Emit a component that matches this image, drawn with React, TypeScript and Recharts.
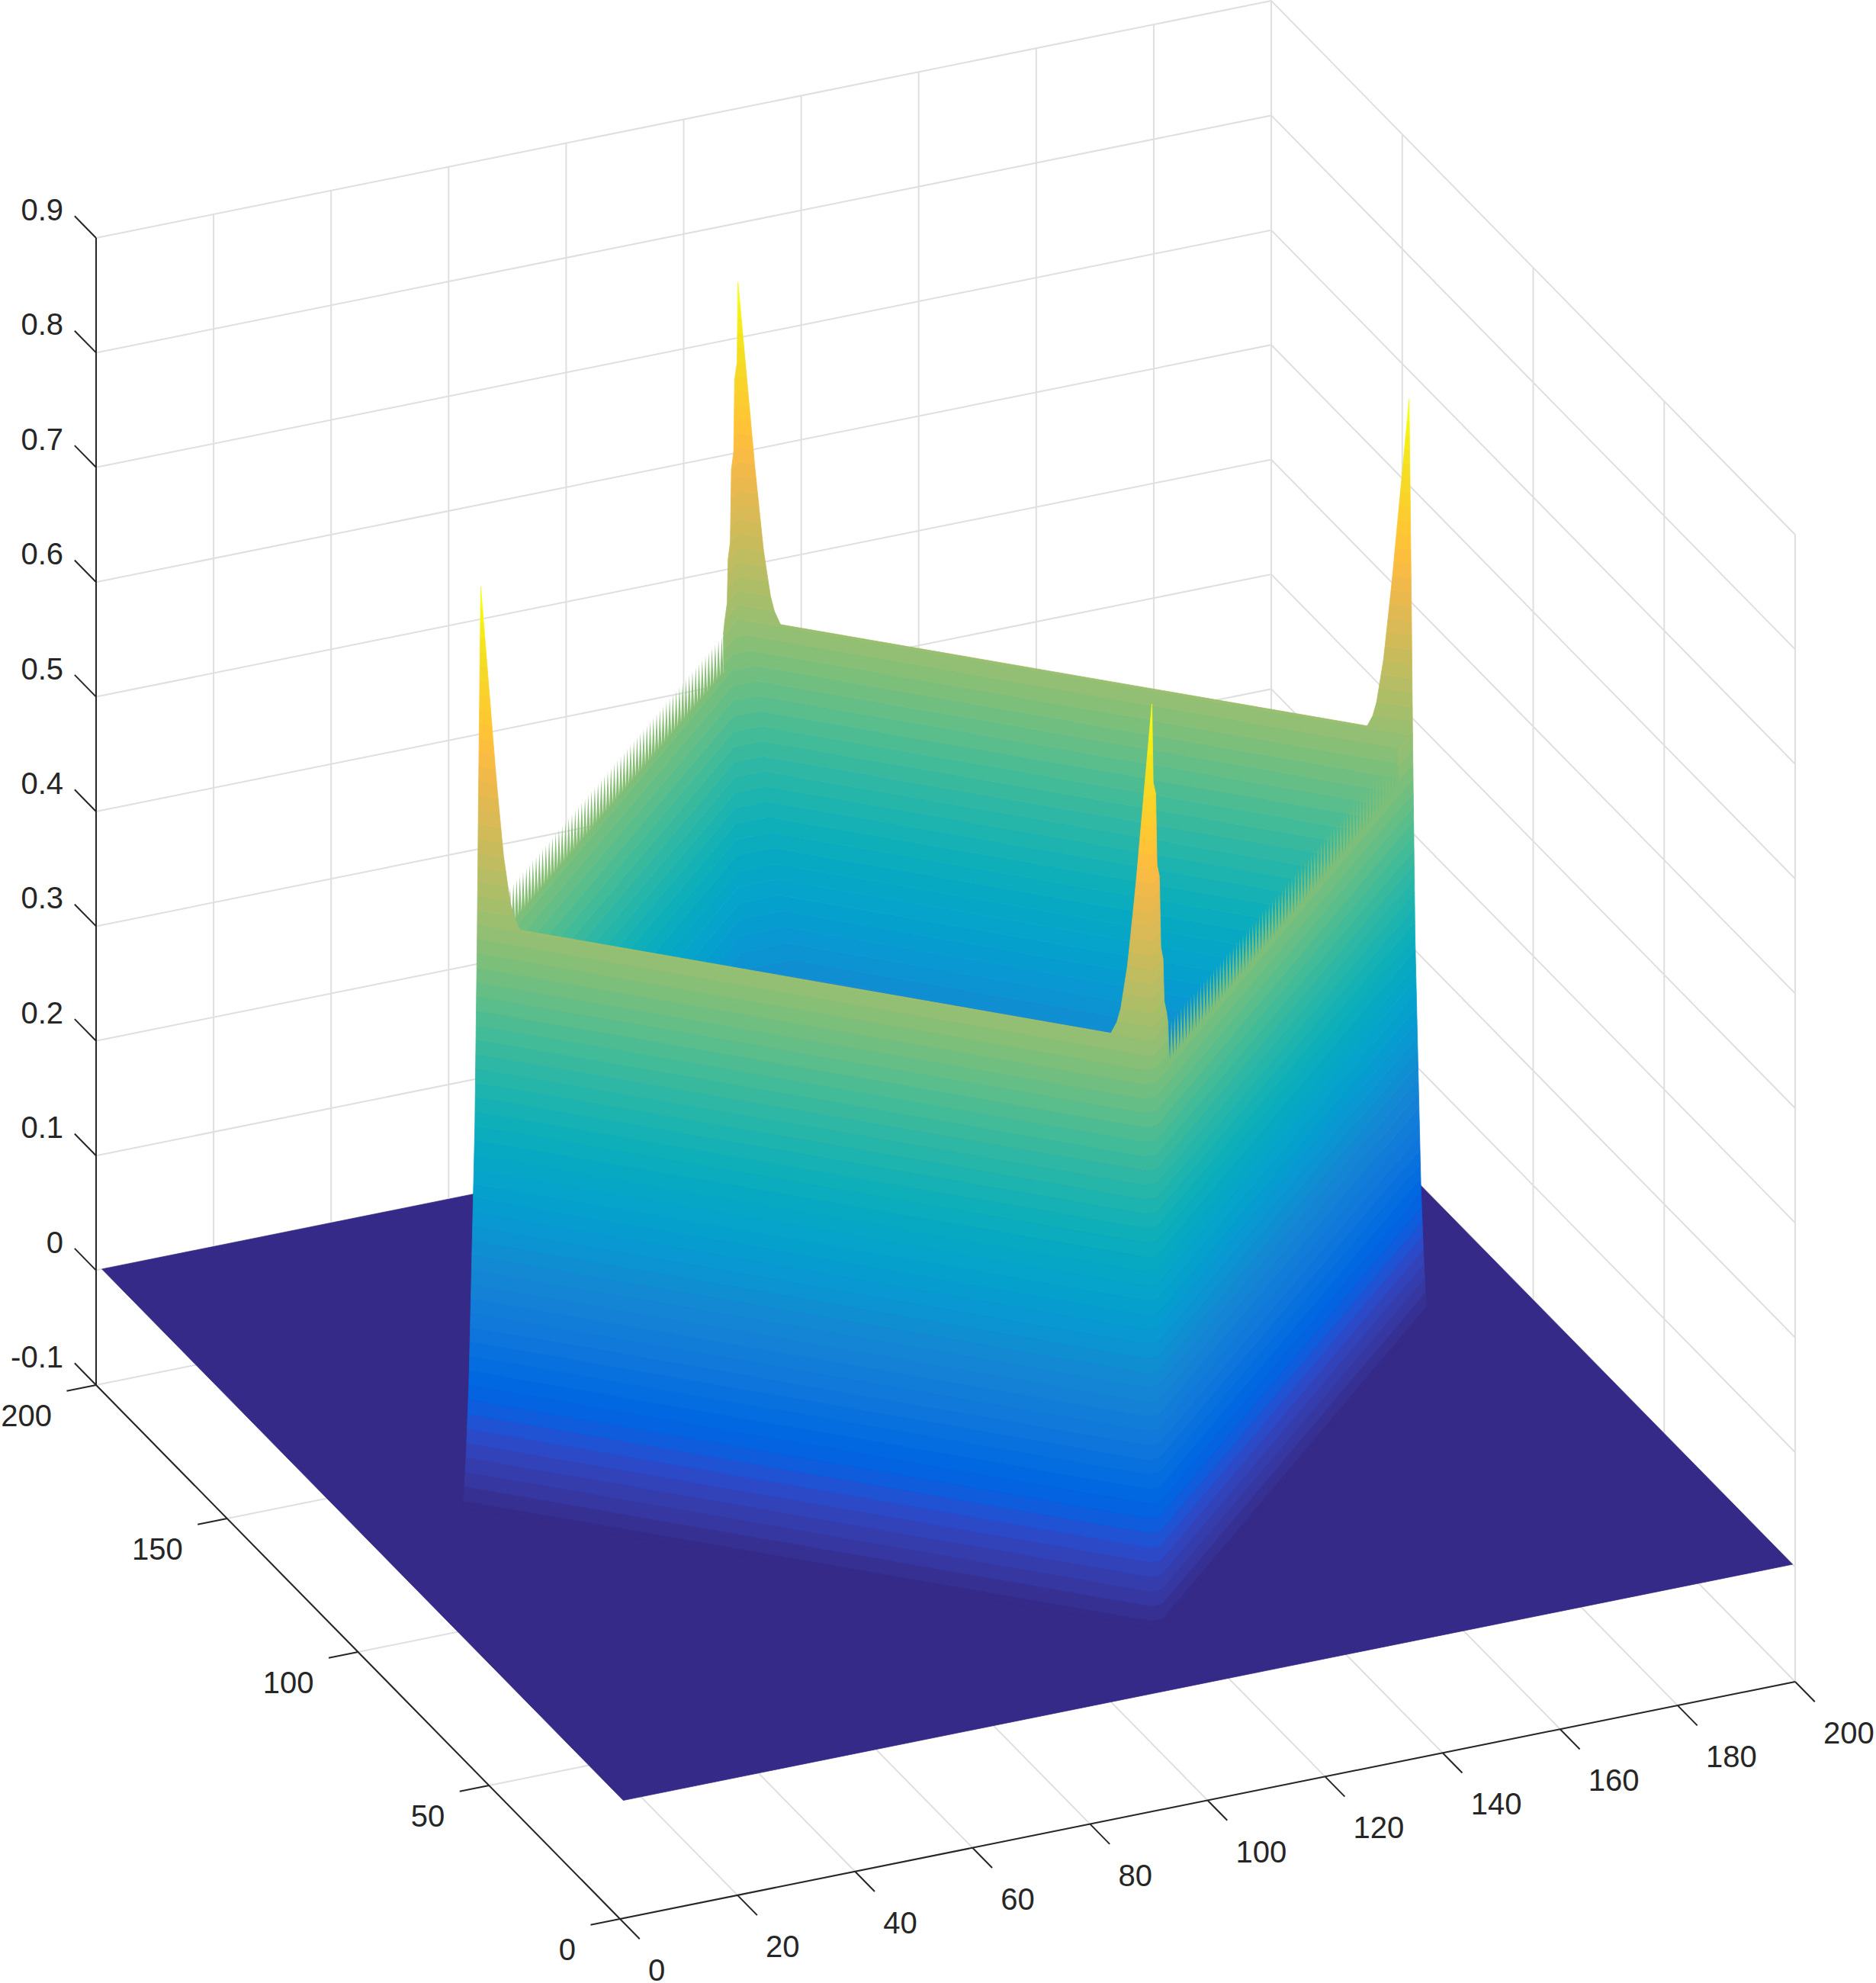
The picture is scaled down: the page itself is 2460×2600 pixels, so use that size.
import React from 'react';
import { ComposedChart, Area, Line, XAxis, YAxis } from 'recharts';

// tick labels
const xTicks = [0, 20, 40, 60, 80, 100, 120, 140, 160, 180, 200];
const yTicks = [0, 50, 100, 150, 200];
const zTicks = [-0.1, 0, 0.1, 0.2, 0.3, 0.4, 0.5, 0.6, 0.7, 0.8, 0.9];

// surface values: height against L1 distance from the centre
const outerZ = [0, 0.045, 0.11, 0.33, 0.5, 0.61, 0.8];
const outerR = [82, 81.5, 81, 80, 79.6, 79.4, 79];
const innerZ = [0.12, 0.15, 0.2, 0.25, 0.3, 0.35, 0.4, 0.45, 0.475, 0.508];
const innerR = [55, 64, 70, 73, 75, 76.5, 77.5, 78.5, 78.9, 79];
// ridge height against distance from a corner
const smoothT = [0, 1, 2, 3, 4, 5];
const smoothZ = [0.8, 0.72, 0.64, 0.57, 0.523, 0.508];
const jaggedT = [0, 0.3, 1, 1.35, 2, 2.4, 3, 3.4, 4, 4.5];
const jaggedZ = [0.8, 0.727, 0.725, 0.651, 0.649, 0.576, 0.574, 0.522, 0.52, 0.508];

const parula = [
  '#352a87', '#363093', '#3637a0', '#353dad', '#3243ba', '#2c4ac7', '#2053d4', '#0f5cdd', '#0363e1', '#0268e1',
  '#046de0', '#0871de', '#0d75dc', '#1079da', '#127dd8', '#1481d6', '#1485d4', '#1389d3', '#108ed2', '#0c93d2',
  '#0998d1', '#079ccf', '#06a0cd', '#06a4ca', '#06a7c6', '#07a9c2', '#0aacbe', '#0fafb9', '#15b1b4', '#1db3af',
  '#25b5a9', '#2eb7a4', '#38b99e', '#42bb98', '#4dbc92', '#59bd8c', '#65be86', '#71bf80', '#7cbf7b', '#87bf77',
  '#92bf73', '#9bbf6f', '#a5be6b', '#aebe67', '#b7bd64', '#c0bc60', '#c8bb5c', '#d1bb59', '#d9ba56', '#e1b952',
  '#e9b94e', '#f1b94a', '#f8bb44', '#fdbe3d', '#ffc337', '#fec832', '#fccd2e', '#f9d32a', '#f7d826', '#f5de21',
  '#f5e41d', '#f5eb18', '#f6f313', '#f9fb0e',
];

const CX = 101;
const CY = 102.5;
const RIDGE_R = 79;
const RIDGE_Z = 0.508;
const VALLEY_Z = 0.475;
const LEVEL = 0.0125;
const JAGGED_END = 4.5;

type Pt = [number, number];

const project = (x: number, y: number, z: number): Pt => [
  813 + 7.705 * x - 3.435 * y,
  2516 - 1.555 * x - 3.5 * y - 1504 * (z + 0.1),
];

const interp = (xs: number[], ys: number[], x: number) => {
  if (x <= xs[0]) return ys[0];
  for (let i = 1; i < xs.length; i++) {
    if (x <= xs[i]) return ys[i - 1] + ((x - xs[i - 1]) / (xs[i] - xs[i - 1])) * (ys[i] - ys[i - 1]);
  }
  return ys[ys.length - 1];
};
const tSmooth = (z: number) => interp([...smoothZ].reverse(), [...smoothT].reverse(), z);
const tJagged = (z: number) => interp([...jaggedZ].reverse(), [...jaggedT].reverse(), z);
const rOut = (z: number) => interp(outerZ, outerR, z);
const rIn = (z: number) => interp(innerZ, innerR, z);

// corners of the diamond at distance r, moved t along a ridge direction (dx, dy)
const corner = { L: [-1, 0], F: [0, -1], R: [1, 0], B: [0, 1] } as const;
type C = keyof typeof corner;
const at = (c: C, r: number, z: number, dx = 0, dy = 0, t = 0) =>
  project(CX + corner[c][0] * r + dx * t, CY + corner[c][1] * r + dy * t, z);

// turn an x-monotone polygon into the [low, high] rows an Area wants
const toRange = (poly: Pt[]) => {
  const xs = [...new Set(poly.map((p) => Math.round(p[0] * 100) / 100))].sort((a, b) => a - b);
  const n = poly.length;
  return xs.map((x) => {
    const hits: number[] = [];
    for (let i = 0; i < n; i++) {
      const a = poly[i];
      const b = poly[(i + 1) % n];
      const lo = Math.min(a[0], b[0]) - 0.006;
      const hi = Math.max(a[0], b[0]) + 0.006;
      if (x < lo || x > hi) continue;
      if (Math.abs(a[0] - b[0]) < 0.02) hits.push(a[1], b[1]);
      else hits.push(a[1] + ((x - a[0]) / (b[0] - a[0])) * (b[1] - a[1]));
    }
    return { px: x, py: [Math.min(...hits), Math.max(...hits)] };
  });
};

// colour steps of the 64 level map, plus the breaks where the surface changes shape
const edges: number[] = [0, 0.8, RIDGE_Z, VALLEY_Z];
for (let k = 1; k <= 63; k++) edges.push((k - 0.5) * LEVEL);
edges.sort((a, b) => a - b);

type Band = { color: string; data: { px: number; py: number[] }[] };

const bands = (from: number, to: number, path: (z: number) => Pt[]): Band[] => {
  const out: Band[] = [];
  for (let i = 0; i + 1 < edges.length; i++) {
    const z1 = edges[i];
    const z2 = edges[i + 1];
    if (z1 < from - 1e-6 || z2 > to + 1e-6) continue;
    const idx = Math.min(63, Math.round((z1 + z2) / 2 / LEVEL));
    out.push({ color: parula[idx], data: toRange([...path(z1), ...path(z2).reverse()]) });
  }
  return out;
};

const saw = (tips: (t: number) => Pt, valley: (t: number) => Pt, t0: number, t1: number) => {
  const rows: { px: number; py: number[] }[] = [];
  for (let t = t0; t <= t1; t++) {
    const tip = tips(t);
    const v = valley(t);
    rows.push({ px: tip[0], py: [v[1] + 2, tip[1]] });
    const v2 = valley(t + 0.5);
    rows.push({ px: v2[0], py: [v2[1] + 2, v2[1]] });
  }
  return rows;
};

// 0 at the ridge, 1 at the valley line under the teeth
const share = (z: number) => (RIDGE_Z - z) / (RIDGE_Z - VALLEY_Z);

// inner faces seen past the front ridge
const innerLow = (z: number): Pt[] => {
  const r = rIn(z);
  const c = 2 + (RIDGE_R - r) * 0.3;
  return [at('L', r, z), at('B', r, z, -1, -1, c), at('B', r, z, 1, -1, c), at('R', r, z)];
};
const innerMid = (z: number): Pt[] => {
  const r = rIn(z);
  const c = 2.03 * share(z);
  const rEnd = rOut(RIDGE_Z) + (rIn(VALLEY_Z) - rOut(RIDGE_Z)) * share(z);
  return [at('B', r, z, -1, -1, JAGGED_END), at('B', r, z, -1, -1, c), at('B', r, z, 1, -1, c), at('R', rEnd, z)];
};
const spikeB = (z: number): Pt[] => [
  at('B', RIDGE_R, z, -1, -1, tJagged(z)),
  at('B', RIDGE_R, z),
  at('B', RIDGE_R, z, 1, -1, tSmooth(z)),
];
// outer faces towards the viewer
const outerLow = (z: number): Pt[] => {
  const r = rOut(z);
  return [at('L', r, z), at('F', r, z, -1, 1, 1), at('F', r, z, 1, 1, 1), at('R', r, z)];
};
const outerMid = (z: number): Pt[] => {
  const r = rOut(z);
  const c = share(z);
  return [at('L', r, z), at('F', r, z, -1, 1, c), at('F', r, z, 1, 1, c), at('F', r, z, 1, 1, JAGGED_END)];
};
const spikeF = (z: number): Pt[] => {
  const r = rOut(z);
  return [at('F', r, z, -1, 1, tSmooth(z)), at('F', r, z), at('F', r, z, 1, 1, tJagged(z))];
};
const spikeL = (z: number): Pt[] => {
  const r = rOut(z);
  return [at('L', r, z), at('L', r, z, 1, -1, tSmooth(z))];
};
const spikeR = (z: number): Pt[] => [at('R', RIDGE_R, z, -1, 1, tSmooth(z)), at('R', rOut(z), z)];
const midR = (z: number): Pt[] => {
  const r = rOut(z);
  return [at('R', r, z, -1, -1, JAGGED_END), at('R', r, z)];
};

const backBands = [...bands(0.125, VALLEY_Z, innerLow), ...bands(VALLEY_Z, RIDGE_Z, innerMid), ...bands(RIDGE_Z, 0.8, spikeB)];
const frontBands = [
  ...bands(0, VALLEY_Z, outerLow),
  ...bands(VALLEY_Z, RIDGE_Z, outerMid),
  ...bands(VALLEY_Z, RIDGE_Z, midR),
  ...bands(RIDGE_Z, 0.8, spikeF),
  ...bands(RIDGE_Z, 0.8, spikeL),
  ...bands(RIDGE_Z, 0.8, spikeR),
];

const backTeeth = saw(
  (t) => at('L', RIDGE_R, RIDGE_Z, 1, 1, t),
  (t) => at('L', RIDGE_R, VALLEY_Z, 1, 1, t),
  5,
  74,
);
const frontTeeth = saw(
  (t) => at('F', rOut(RIDGE_Z), RIDGE_Z, 1, 1, t),
  (t) => at('F', rOut(VALLEY_Z), VALLEY_Z, 1, 1, t),
  JAGGED_END,
  75,
);

const floorData = toRange([project(1, 1, 0), project(200, 1, 0), project(200, 200, 0), project(1, 200, 0)]);

// line work, one series per colour, broken by null rows
type Row = { px: number; py: number | null };
const toRows = (segments: Pt[][]) => {
  const rows: Row[] = [];
  segments.forEach((s) => {
    s.forEach((p) => rows.push({ px: p[0], py: p[1] }));
    rows.push({ px: s[s.length - 1][0], py: null });
  });
  return rows;
};

const Z0 = -0.1;
const Z1 = 0.9;
const gridRows = toRows([
  ...zTicks.map((z) => [project(0, 200, z), project(200, 200, z), project(200, 0, z)]),
  ...xTicks.map((x) => [project(x, 200, Z0), project(x, 200, Z1)]),
  ...yTicks.map((y) => [project(200, y, Z0), project(200, y, Z1)]),
  ...xTicks.map((x) => [project(x, 0, Z0), project(x, 200, Z0)]),
  ...yTicks.map((y) => [project(0, y, Z0), project(200, y, Z0)]),
]);
const axisRows = toRows([
  [project(0, 200, Z0), project(0, 200, Z1)],
  [project(0, 0, Z0), project(200, 0, Z0)],
  [project(0, 0, Z0), project(0, 200, Z0)],
  ...zTicks.map((z) => [project(0, 200, z), project(0, 208.2, z)]),
  ...xTicks.map((x) => [project(x, 0, Z0), project(x, -7.5, Z0)]),
  ...yTicks.map((y) => [project(0, y, Z0), project(-5, y, Z0)]),
]);

const zLabels = zTicks.map((z) => {
  const p = project(0, 200, z);
  return { px: 83, py: p[1] - 37, label: String(z), anchor: 'end' };
});
const xLabels = xTicks.map((x) => {
  const p = project(x, 0, Z0);
  return { px: p[0] + 37, py: p[1] + 67, label: String(x), anchor: 'start' };
});
const yLabels = yTicks.map((y) => {
  const p = project(0, y, Z0);
  return { px: p[0] - 58, py: p[1] + 40, label: String(y), anchor: 'end' };
});
const labels = [...zLabels, ...xLabels, ...yLabels];

const TickText = (props: any) => {
  const { cx, cy, payload } = props;
  if (cx == null || cy == null) return <g />;
  return (
    <text
      key={`${payload.label}-${payload.px}`}
      x={cx}
      y={cy}
      textAnchor={payload.anchor}
      dominantBaseline="central"
      fontFamily="'Liberation Sans', Arial, sans-serif"
      fontSize={40}
      fill="#262626"
    >
      {payload.label}
    </text>
  );
};

const surface = (b: Band, key: string) => (
  <Area
    key={key}
    data={b.data}
    dataKey="py"
    type="linear"
    fill={b.color}
    fillOpacity={1}
    stroke={b.color}
    strokeWidth={0.8}
    dot={false}
    activeDot={false}
    isAnimationActive={false}
    zIndex={100}
  />
);

export default function App() {
  return (
    <div style={{ position: 'absolute', left: 0, top: 0, width: 2460, height: 2600, background: '#fff' }}>
      <ComposedChart width={2460} height={2600} margin={{ top: 0, right: 0, bottom: 0, left: 0 }}>
        <XAxis dataKey="px" type="number" domain={[0, 2460]} hide allowDataOverflow />
        <YAxis type="number" domain={[0, 2600]} reversed hide allowDataOverflow />
        <Line data={gridRows} dataKey="py" stroke="#dfdfdf" strokeWidth={2} dot={false} activeDot={false} isAnimationActive={false} zIndex={50} />
        <Line data={axisRows} dataKey="py" stroke="#262626" strokeWidth={2} dot={false} activeDot={false} isAnimationActive={false} zIndex={60} />
        {surface({ color: parula[0], data: floorData }, 'floor')}
        <Area data={backTeeth} dataKey="py" type="linear" fill={parula[39]} fillOpacity={1} stroke="none" dot={false} activeDot={false} isAnimationActive={false} zIndex={100} />
        {backBands.map((b, i) => surface(b, `back-${i}`))}
        <Area data={frontTeeth} dataKey="py" type="linear" fill={parula[38]} fillOpacity={1} stroke="none" dot={false} activeDot={false} isAnimationActive={false} zIndex={100} />
        {frontBands.map((b, i) => surface(b, `front-${i}`))}
        <Line data={labels} dataKey="py" stroke="none" dot={TickText} activeDot={false} isAnimationActive={false} zIndex={500} />
      </ComposedChart>
    </div>
  );
}
